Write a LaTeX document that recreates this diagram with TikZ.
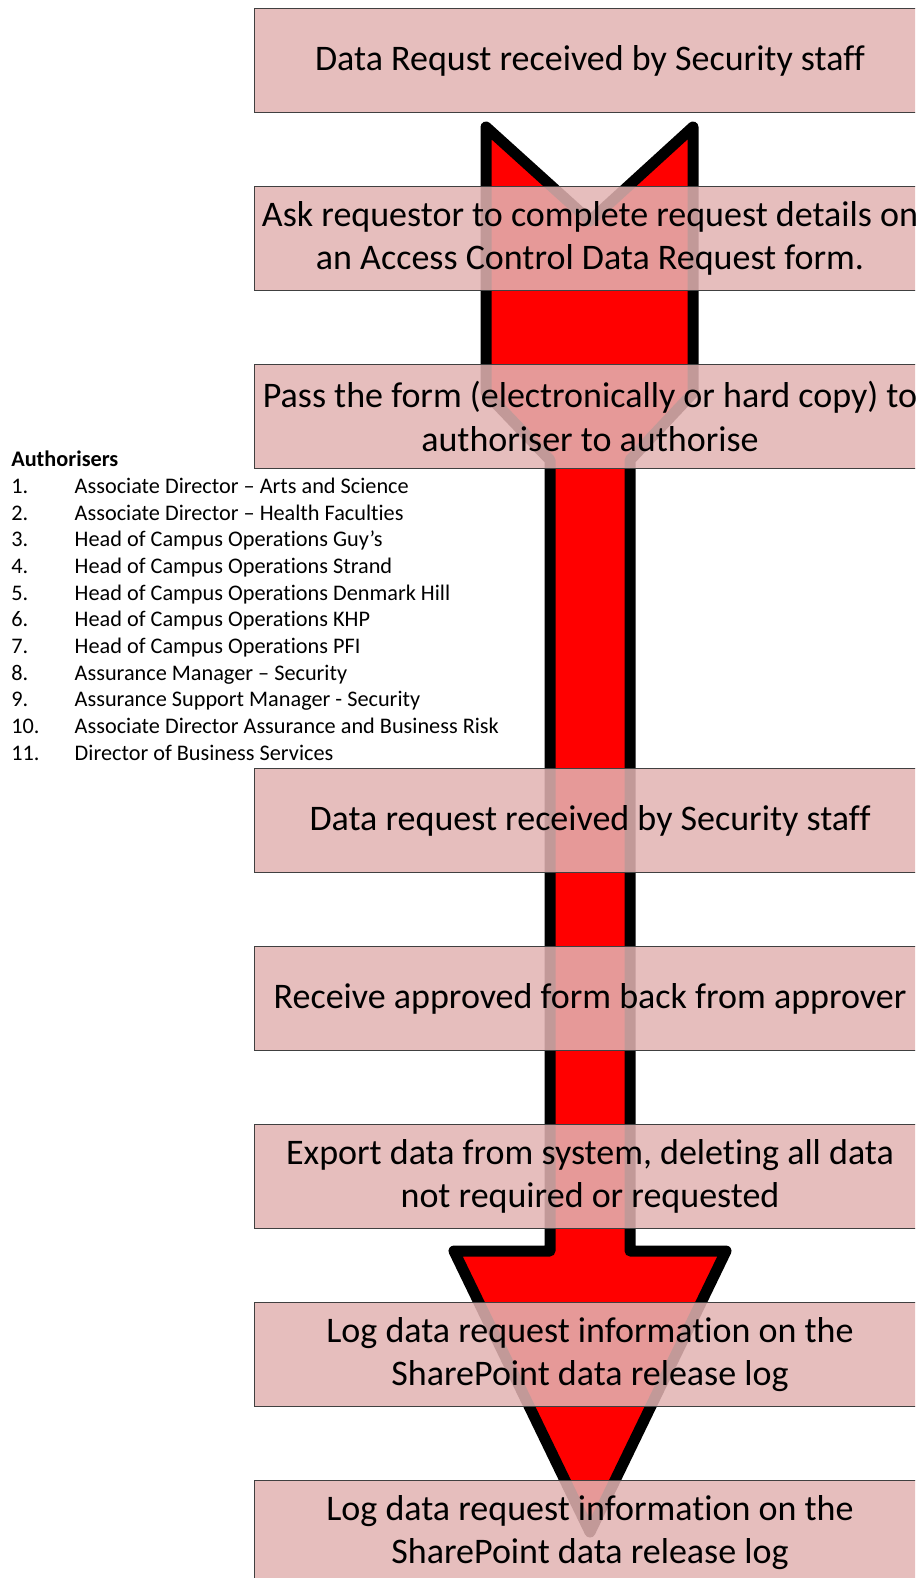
\documentclass[tikz,border=0pt]{standalone}
\usepackage{fontspec}
\setmainfont[RawFeature={-liga,-clig,-calt,-dlig}]{Carlito}
\usetikzlibrary{calc}
\definecolor{boxpink}{RGB}{226,179,178}
\definecolor{arrowred}{RGB}{255,0,0}
\tikzset{
  stepbox/.style={draw=black!75, line width=0.75pt, fill=boxpink, fill opacity=0.86, text opacity=1,
    minimum width=504pt, minimum height=78.5pt, inner sep=0pt, align=center,
    font=\fontsize{27}{32.5}\selectfont},
  bigarrow/.style={draw=black, fill=arrowred, line width=8.25pt, line join=round}
}
\begin{document}
\begin{tikzpicture}[x=0.75pt,y=-0.75pt]
\useasboundingbox (0,0) rectangle (915,1578);
\clip (0,0) rectangle (915,1578);
\draw[bigarrow] (486,127) -- (590,221) -- (693,127) -- (693,393) -- (630,460) -- (630,1251) -- (726,1251)
  -- (590,1532) -- (454,1251) -- (550,1251) -- (550,460) -- (486,393) -- cycle;
\node[stepbox] (s1) at (590,60.5) {Data Requst received by Security staff};
\node[stepbox] (s2) at (590,238.5) {Ask requestor to complete request details on\\an Access Control Data Request form.};
\node[stepbox] (s3) at (590,416.5) {Pass the form (electronically or hard copy) to\\authoriser to authorise};
\node[stepbox] (s4) at (590,820.5) {Data request received by Security staff};
\node[stepbox] (s5) at (590,998.5) {Receive approved form back from approver};
\node[stepbox] (s6) at (590,1176.5) {Export data from system, deleting all data\\not required or requested};
\node[stepbox] (s7) at (590,1354.5) {Log data request information on the\\SharePoint data release log};
\node[stepbox] (s8) at (590,1532.5) {Log data request information on the\\SharePoint data release log};
\node[anchor=base west, inner sep=0pt, font=\fontsize{16.7}{20}\selectfont] (authlist) at (11,466.7) {%
  \begin{tabular}[t]{@{}p{47.6pt}@{}l@{}}
  \multicolumn{2}{@{}l@{}}{\bfseries Authorisers}\\
  1. & Associate Director – Arts and Science\\
  2. & Associate Director – Health Faculties\\
  3. & Head of Campus Operations Guy’s\\
  4. & Head of Campus Operations Strand\\
  5. & Head of Campus Operations Denmark Hill\\
  6. & Head of Campus Operations KHP\\
  7. & Head of Campus Operations PFI\\
  8. & Assurance Manager – Security\\
  9. & Assurance Support Manager - Security\\
  10. & Associate Director Assurance and Business Risk\\
  11. & Director of Business Services
  \end{tabular}};
\end{tikzpicture}
\end{document}
